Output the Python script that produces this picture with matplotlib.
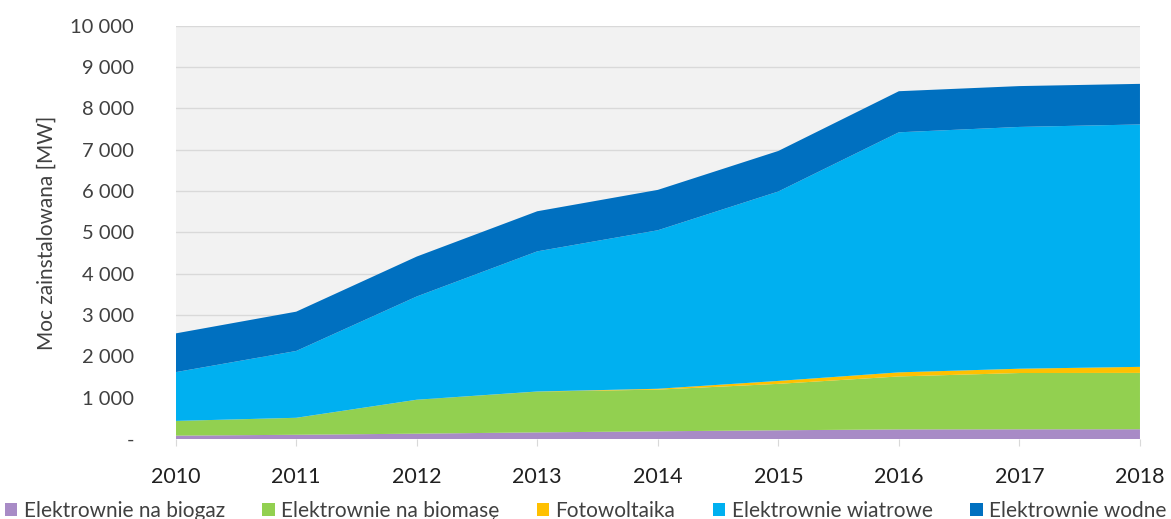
import matplotlib
matplotlib.use("Agg")
import matplotlib.pyplot as plt
from matplotlib.ticker import FuncFormatter

plt.rcParams['font.family'] = ['Lato', 'DejaVu Sans']

years = [2010, 2011, 2012, 2013, 2014, 2015, 2016, 2017, 2018]
biogaz = [83, 104, 131, 162, 188, 213, 234, 236, 238]
biomasa = [356, 410, 820, 987, 1008, 1123, 1281, 1362, 1363]
fotowoltaika = [0, 1, 1, 2, 21, 71, 99, 104, 146]
wiatrowe = [1180, 1616, 2497, 3390, 3834, 4582, 5807, 5849, 5864]
wodne = [937, 951, 966, 970, 977, 981, 994, 988, 982]

labels = ["Elektrownie na biogaz", "Elektrownie na biomasę", "Fotowoltaika",
          "Elektrownie wiatrowe", "Elektrownie wodne"]
colors = ["#A88BC6", "#92D050", "#FFC000", "#00B0F0", "#0070C0"]

fig = plt.figure(figsize=(11.71, 5.19), dpi=100)
ax = fig.add_axes([0.150, 0.154, 0.8235, 0.7965])
ax.set_facecolor("#F2F2F2")
ax.stackplot(years, biogaz, biomasa, fotowoltaika, wiatrowe, wodne,
             labels=labels, colors=colors, linewidth=0, zorder=3)
ax.set_xlim(2010, 2018)
ax.set_ylim(0, 10000)
ax.set_yticks(range(0, 10001, 1000))
ax.yaxis.set_major_formatter(FuncFormatter(
    lambda v, p: "-" if v == 0 else f"{int(v):,}".replace(",", " ")))
ax.set_xticks(years)
ax.grid(axis="y", color="#D9D9D9", linewidth=1, zorder=1)
for s in ax.spines.values():
    s.set_visible(False)
ax.tick_params(axis="y", length=0, pad=30, labelsize=14.5, labelcolor="#404040")
ax.tick_params(axis="x", length=5, color="#D9D9D9", pad=15, labelsize=15.5, labelcolor="#202020")
ax.set_ylabel("Moc zainstalowana [MW]", fontsize=15, color="#404040", labelpad=10)

fig.legend(loc="center", bbox_to_anchor=(0.5, 0.016), ncol=5, frameon=False,
           fontsize=15, handlelength=0.6, handleheight=0.6, handletextpad=0.3,
           columnspacing=1.8, labelcolor="#404040", borderaxespad=0, borderpad=0)
fig.savefig("out.png", dpi=100, facecolor="white")
